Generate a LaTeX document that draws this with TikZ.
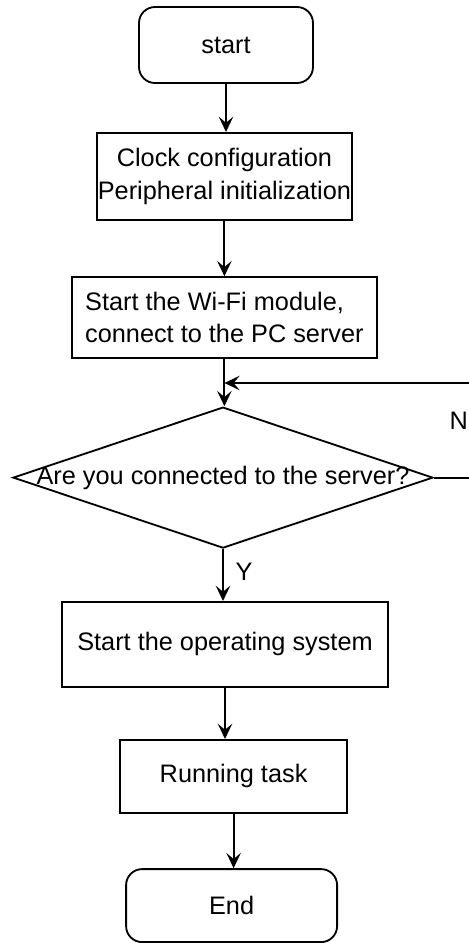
\documentclass[tikz,border=0pt]{standalone}
\usepackage{fontspec}
\setmainfont{Liberation Sans}
\usepackage{tikz}
\usetikzlibrary{positioning}
\usetikzlibrary{shapes.geometric}
\usetikzlibrary{arrows.meta}
\tikzset{>={Stealth[length=3.8mm,width=3.6mm,inset=1.5mm]}}
\tikzset{
  termbox/.style={draw, line width=1.3pt, rounded corners=0.4cm, inner sep=0pt},
  procbox/.style={draw, line width=1.3pt, inner sep=0pt},
  decbox/.style={draw, line width=1.3pt, diamond, inner sep=0pt},
  flow/.style={->, line width=1.3pt},
}
\begin{document}
\begin{tikzpicture}[scale=1, font=\fontsize{18}{23}\selectfont]

\useasboundingbox (0,0) rectangle (11.725,-23.575);
\clip (0,0) rectangle (11.725,-23.575);

% ---------------- Blocks ----------------
\node[termbox, minimum width=4.35cm, minimum height=1.9cm] (start) at (5.65,-1.125) {start};
\node[procbox, minimum width=6.375cm, minimum height=2.175cm, align=center] (clock) at (5.61,-4.41)
  {Clock configuration\\Peripheral initialization};
\node[procbox, minimum width=7.625cm, minimum height=2.025cm, align=left] (wifi) at (5.61,-7.94)
  {Start the Wi-Fi module,\\connect to the PC server};

% Decision
\node[decbox, minimum width=10.5cm, minimum height=3.525cm,
  label={center:Are you connected to the server?}] (conn) at (5.575,-11.94) {};

\node[procbox, minimum width=8.15cm, minimum height=2.125cm] (os) at (5.625,-16.11) {Start the operating system};
\node[procbox, minimum width=5.675cm, minimum height=1.825cm] (task) at (5.84,-19.41) {Running task};
\node[termbox, minimum width=5.275cm, minimum height=1.825cm] (end) at (5.79,-22.64) {End};

% ---------------- Arrows ----------------
\draw[flow] (start.south) -- (start.south |- clock.north);
\draw[flow] (clock.south) -- (clock.south |- wifi.north);
\draw[flow] (wifi.south) -- (wifi.south |- conn.north);
\draw[flow] (conn.south) -- (conn.south |- os.north);
\draw[flow] (os.south) -- (os.south |- task.north);
\draw[flow] (task.south) -- (task.south |- end.north);

% Retry loop (runs off the right edge)
\coordinate (loop) at (12.1,-9.575);
\draw[flow] (conn.east) -| (loop) -- (wifi.south |- loop);

% ---------------- Labels ----------------
\node (ylab) at (6.1,-14.3) {Y};
\node (nlab) at (11.47,-10.525) {N};

\end{tikzpicture}
\end{document}
